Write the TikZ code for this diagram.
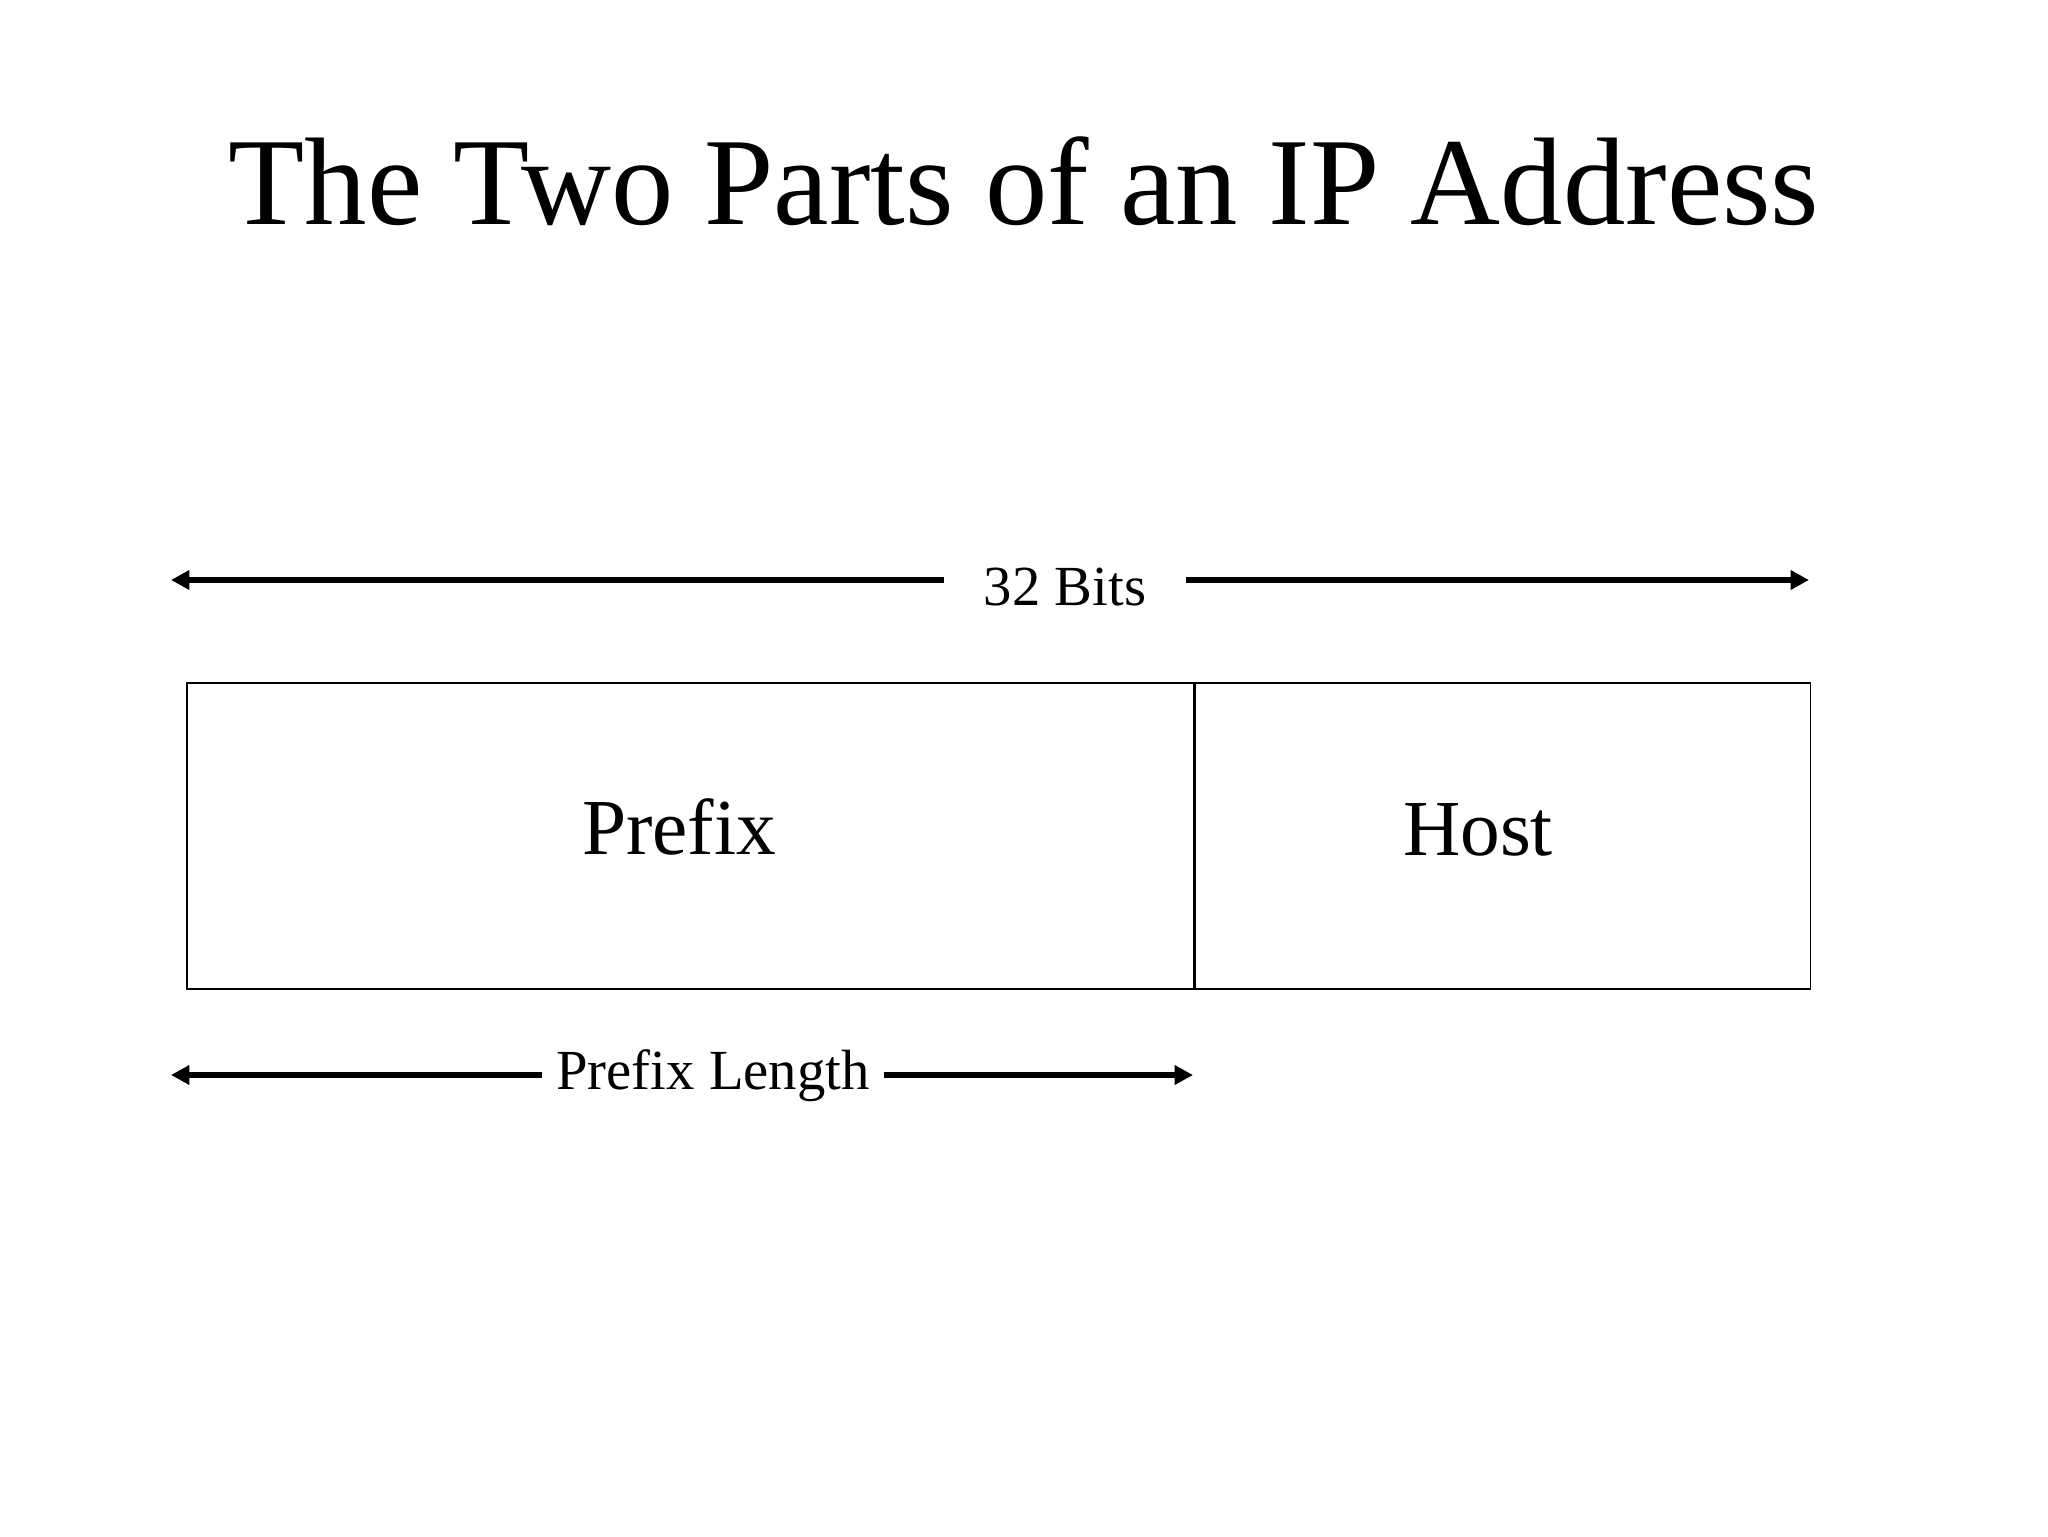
\documentclass[tikz,border=0pt]{standalone}
\usepackage{fontspec}
\setmainfont{Liberation Serif}
\usetikzlibrary{arrows.meta,positioning}
\begin{document}
\begin{tikzpicture}[x=0.0124023cm, y=-0.0124023cm,
        part/.style = {rectangle, draw,
                line width=0.6pt,
                minimum height=3.795cm,
                inner sep=0pt},
        partlabel/.style = {anchor=base,
                font=\fontsize{28}{34}\selectfont},
        span/.style = {line width=2.25pt,
                -{Triangle[length=6.5pt, width=6.6pt]}},
        spanlabel/.style = {inner ysep=0pt,
                font=\fontsize{20}{24}\selectfont}]

    \useasboundingbox (0,0) rectangle (2048,1536);

    % Title
    \node[anchor=base, font=\fontsize{44}{52}\selectfont] (title) at (1024,224)
        {The Two Parts of an IP Address};

    % Address fields
    \node[part, minimum width=12.489cm] (prefix) at (690.5,836) {};
    \node[part, minimum width=7.627cm, right=0pt of prefix] (host) {};
    \node[partlabel] (prefixtext) at (679,854) {Prefix};
    \node[partlabel] (hosttext) at (1478,855) {Host};

    % Whole address
    \coordinate (allL) at (171,580);
    \coordinate (allR) at (1809,580);
    \node[spanlabel, anchor=base, inner xsep=14pt] (bits) at (1065,605) {32 Bits};
    \draw[span] (bits.west |- allL) -- (allL);
    \draw[span] (bits.east |- allR) -- (allR);

    % Prefix part
    \coordinate (preL) at (171,1075);
    \coordinate (preR) at (1193,1075);
    \node[spanlabel, anchor=base, inner xsep=5pt] (plen) at (713,1089) {Prefix Length};
    \draw[span] (plen.west |- preL) -- (preL);
    \draw[span] (plen.east |- preR) -- (preR);

\end{tikzpicture}
\end{document}
